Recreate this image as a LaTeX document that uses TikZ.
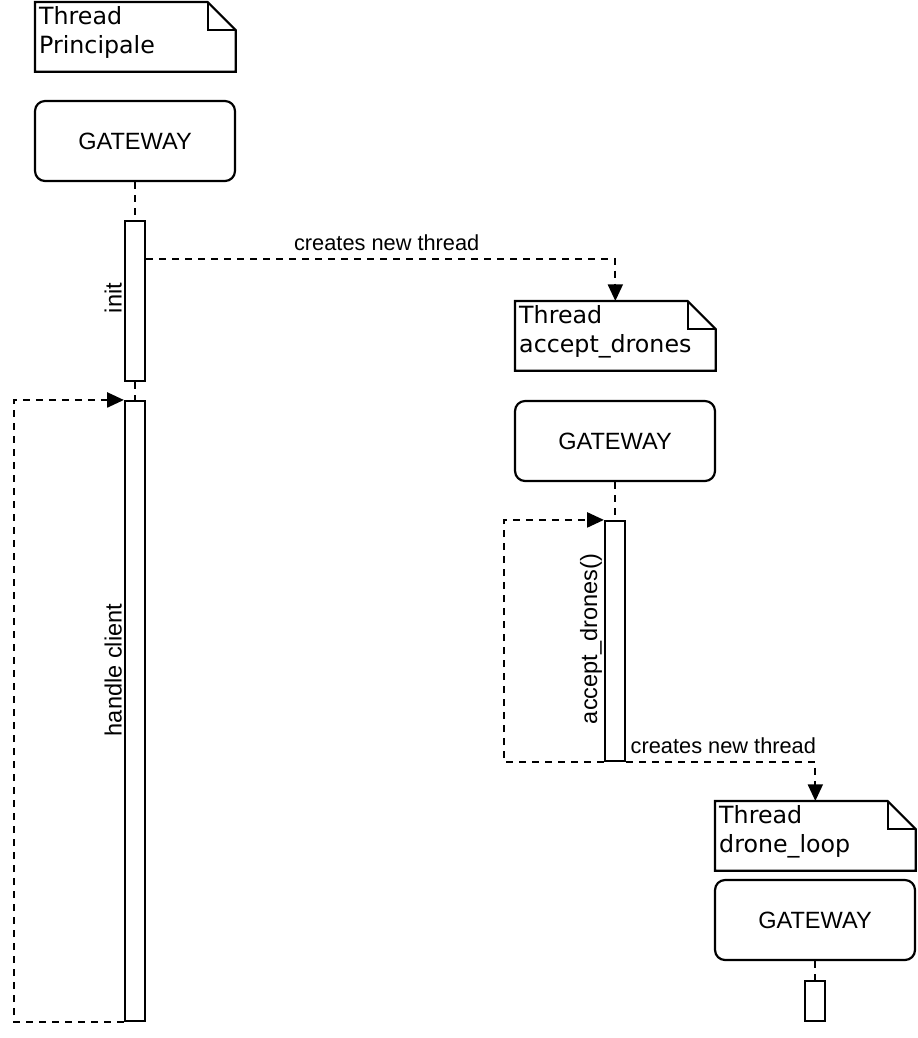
\documentclass[tikz,border=0pt]{standalone}
\usepackage{fontspec}
\setmainfont{Liberation Sans}
\newfontfamily\notefont{DejaVu Sans}
\usetikzlibrary{arrows.meta}

\begin{document}
\begin{tikzpicture}[x = 0.02cm, y = -0.02cm,
        gateway/.style = {draw, line width = 1.25pt, rounded corners = 5.7pt, minimum width = 4cm, minimum height = 1.6cm, font = \fontsize{13.4pt}{16pt}\selectfont},
        note/.style = {minimum width = 4cm, minimum height = 1.38cm, inner sep = 0pt},
        notetext/.style = {anchor = north west, align = left, inner sep = 2.2pt, font = \notefont\fontsize{13.5pt}{16.4pt}\selectfont},
        activation/.style = {draw, fill = white, line width = 1.25pt, minimum width = 0.4cm, inner sep = 0pt},
        actlabel/.style = {rotate = 90, anchor = south, inner sep = 1pt, font = \fontsize{13.4pt}{16pt}\selectfont},
        lifeline/.style = {line width = 1.25pt, dash pattern = on 4pt off 3.4pt},
        message/.style = {lifeline, -{Triangle[length = 9.5pt, width = 8.5pt]}},
        msglabel/.style = {inner sep = 4pt, font = \fontsize{12.4pt}{14pt}\selectfont}]
        \useasboundingbox (0, 0) rectangle (918, 1038);
        % notes
        \node [note, anchor = north west] (note1) at (35, 2) {};
        \node [note, anchor = north west] (note2) at (515, 301) {};
        \node [note, anchor = north west] (note3) at (715, 801) {};
        \node [notetext] at (note1.north west) {Thread\\Principale};
        \node [notetext] at (note2.north west) {Thread\\accept\_drones};
        \node [notetext] at (note3.north west) {Thread\\drone\_loop};
        \foreach \n in {note1, note2, note3} {
            \draw [line width = 1.25pt] (\n.north west) -- ([xshift = -0.56cm] \n.north east) -- ([yshift = -0.56cm] \n.north east) -- (\n.south east) -- (\n.south west) -- cycle;
            \draw [line width = 1.25pt] ([xshift = -0.56cm] \n.north east) |- ([yshift = -0.56cm] \n.north east);
        }
        % lifelines
        \node [gateway] (gw1) at (135, 141) {GATEWAY};
        \node [gateway] (gw2) at (615, 441) {GATEWAY};
        \node [gateway] (gw3) at (815, 920) {GATEWAY};
        \node [activation, minimum height = 3.2cm] (init) at (135, 301) {};
        \node [activation, minimum height = 12.4cm] (handle) at (135, 711) {};
        \node [activation, minimum height = 4.8cm] (accept) at (615, 641) {};
        \node [activation, minimum height = 0.8cm] (loop) at (815, 1001) {};
        \draw [lifeline] (gw1.south) -- (init.north);
        \draw [lifeline] (init.south) -- (handle.north);
        \draw [lifeline] (gw2.south) -- (accept.north);
        \draw [lifeline] (gw3.south) -- (loop.north);
        \node [actlabel] at (124, 298) {init};
        \node [actlabel] at (124, 670) {handle client};
        \node [actlabel] at (604, 639) {accept\_drones()};
        % messages
        \draw [message] (handle.south west) -- ++(-110, 0) |- (handle.north west);
        \draw [message] (accept.south west) -- ++(-100, 0) |- (accept.north west);
        \draw [message] ([yshift = -0.78cm] init.north east) -| (note2.north)
            node [msglabel, pos = 0.25, above, xshift = 0.12cm] {creates new thread};
        \draw [message] (accept.south east) -| (note3.north)
            node [msglabel, pos = 0, above right, inner xsep = 2pt] {creates new thread};
    \end{tikzpicture}
\end{document}
